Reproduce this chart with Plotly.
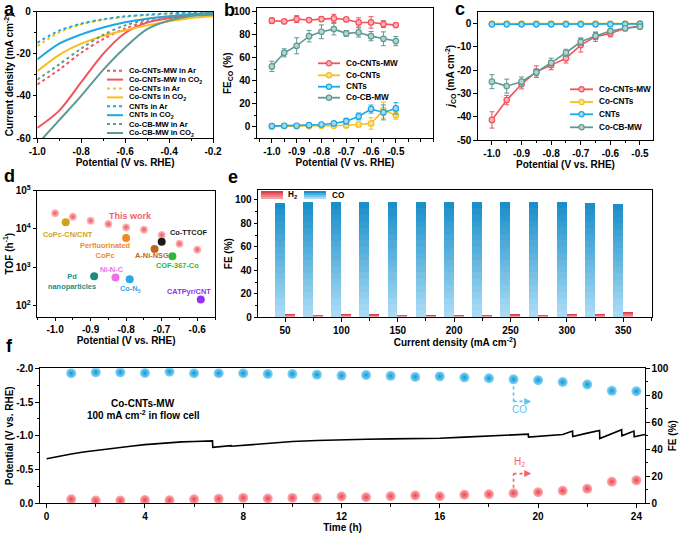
import plotly.graph_objects as go

W, H = 682, 539
FONT = "Liberation Sans, Arial, Helvetica, sans-serif"

RED, YEL, BLU, TEAL = '#F4535B', '#F9BE1A', '#1AA8E6', '#5E9A94'
RED_L, YEL_L, BLU_L, TEAL_L = '#FBB3B6', '#FDE08C', '#A3DBF5', '#B9D4D0'

# ---------------- a: LSV curves ----------------
lsv_potential = [-1.0, -0.9, -0.8, -0.7, -0.6, -0.5, -0.4, -0.3, -0.2]
lsv_cocntsmw_ar = [-34.6, -27.5, -19.5, -13.0, -8.0, -4.8, -3.0, -1.5, -0.6]
lsv_cocntsmw_co2 = [-55.2, -47.0, -33.5, -20.0, -10.1, -5.2, -3.0, -1.8, -1.1]
lsv_cocnts_ar = [-16.4, -9.8, -6.0, -3.8, -2.5, -1.7, -1.1, -0.5, -0.1]
lsv_cocnts_co2 = [-28.3, -20.5, -15.2, -11.5, -8.8, -6.5, -4.6, -3.0, -2.2]
lsv_cnts_ar = [-14.8, -9.0, -5.7, -3.6, -2.2, -1.4, -0.8, -0.4, -0.1]
lsv_cnts_co2 = [-22.7, -15.2, -10.8, -7.5, -5.0, -3.3, -2.2, -1.2, -0.6]
lsv_cocbmw_ar = [-32.3, -25.0, -17.5, -11.0, -6.5, -3.8, -2.2, -1.2, -0.6]
lsv_cocbmw_co2 = [-63.0, -51.5, -40.0, -27.6, -17.0, -8.3, -4.2, -2.0, -1.4]
lsv_labels = ['Co-CNTs-MW in Ar', 'Co-CNTs-MW in CO<sub>2</sub>', 'Co-CNTs in Ar', 'Co-CNTs in CO<sub>2</sub>',
              'CNTs in Ar', 'CNTs in CO<sub>2</sub>', 'Co-CB-MW in Ar', 'Co-CB-MW in CO<sub>2</sub>']

# ---------------- b, c: FE(CO) and j(CO) ----------------
fe_potential = [-1.0, -0.95, -0.9, -0.85, -0.8, -0.75, -0.7, -0.65, -0.6, -0.55, -0.5]
series_names = ['Co-CNTs-MW', 'Co-CNTs', 'CNTs', 'Co-CB-MW']
fe_cocntsmw = [92.2, 91.6, 93.6, 92.8, 93.6, 94.2, 93.3, 90.7, 90.7, 89.3, 88.4]
fe_cocntsmw_err = [2.5, 1.5, 3.0, 1.5, 2.0, 3.5, 1.5, 4.0, 5.0, 3.0, 1.5]
fe_cocnts = [0.3, 0.6, 0.6, 0.6, 0.9, 0.9, 1.2, 2.0, 2.9, 14.5, 10.1]
fe_cocnts_err = [0.3, 0.3, 0.3, 0.4, 0.5, 0.5, 1.0, 2.0, 5.0, 7.0, 3.5]
fe_cnts = [0.6, 0.9, 0.9, 1.4, 2.0, 2.9, 4.9, 9.0, 15.4, 12.5, 16.0]
fe_cnts_err = [0.4, 0.5, 0.6, 0.8, 1.0, 1.5, 2.5, 3.0, 3.5, 6.5, 5.0]
fe_cocbmw = [52.5, 64.3, 70.4, 78.8, 82.6, 84.9, 81.2, 82.0, 78.8, 76.5, 74.5]
fe_cocbmw_err = [4.5, 3.5, 7.0, 5.0, 6.0, 5.0, 2.5, 4.0, 4.0, 6.0, 4.0]

jco_cocntsmw = [-41.4, -32.9, -26.1, -20.7, -17.9, -15.0, -9.3, -5.7, -4.3, -2.1, -1.1]
jco_cocntsmw_err = [3.5, 2.0, 2.0, 2.5, 2.0, 2.0, 3.0, 2.0, 1.5, 1.0, 0.5]
jco_cocnts = [-0.05, -0.05, -0.05, -0.05, -0.05, -0.05, -0.05, -0.05, -0.1, -0.1, -0.1]
jco_cnts = [-0.4, -0.4, -0.4, -0.4, -0.4, -0.4, -0.4, -0.4, -0.4, -0.3, -0.2]
jco_cocbmw = [-25.0, -26.9, -25.0, -21.0, -16.9, -12.6, -7.9, -5.4, -3.3, -2.1, -1.4]
jco_cocbmw_err = [3.0, 3.0, 2.0, 1.5, 2.0, 1.5, 1.5, 1.5, 1.0, 0.5, 0.5]

# ---------------- d: TOF comparison ----------------
tw_potential = [-1.0, -0.95, -0.9, -0.85, -0.8, -0.75, -0.7, -0.65, -0.6]
tw_tof = [25700, 20800, 16400, 13400, 11000, 9600, 7000, 4100, 2900]
ref_names = ['CoPc-CN/CNT', 'Perfluorinated CoPc', 'Co-TTCOF', 'A-Ni-NSG', 'COF-367-Co',
             'Ni-N-C', 'Co-N5', 'Pd nanoparticles', 'CATPyr/CNT']
ref_potential = [-0.97, -0.80, -0.70, -0.72, -0.67, -0.83, -0.79, -0.89, -0.59]
ref_tof = [14900, 5800, 4650, 3000, 1950, 550, 490, 590, 148]
ref_colors = ['#D2A31A', '#F28A1E', '#1A1A1A', '#C0651E', '#2DB83D', '#F070E6', '#29A9E6', '#1B8C84', '#9430EE']

# ---------------- e: FE vs current density ----------------
current_density = [50, 75, 100, 125, 150, 175, 200, 225, 250, 275, 300, 325, 350]
fe_co_cd = [97.8, 98.0, 98.0, 98.3, 98.5, 98.7, 98.5, 98.5, 98.5, 98.5, 98.5, 97.8, 96.4]
fe_h2_cd = [2.8, 2.0, 2.8, 2.5, 2.0, 1.7, 2.3, 2.0, 2.5, 2.3, 2.8, 2.8, 4.5]

# ---------------- f: stability ----------------
stab_time = [0, 0.5, 1, 1.5, 2, 2.5, 3, 3.5, 4, 4.5, 5, 5.5, 6, 6.5, 6.75, 6.76, 7, 7.5, 7.51, 8,
             9, 10, 11, 12, 13, 14, 15, 15.5, 15.51, 16, 17, 18, 19, 19.6, 19.61, 20, 21, 21.4, 21.41,
             22, 22.5, 22.51, 23, 23.4, 23.41, 23.9, 23.91, 24.35]
stab_potential = [-0.66, -0.70, -0.73, -0.76, -0.785, -0.81, -0.83, -0.85, -0.87, -0.885, -0.90, -0.91,
                  -0.915, -0.92, -0.925, -0.83, -0.84, -0.855, -0.845, -0.86, -0.89, -0.915, -0.93, -0.945,
                  -0.95, -0.955, -0.96, -0.965, -0.955, -0.963, -0.98, -0.995, -1.01, -1.025, -0.98, -0.99,
                  -1.02, -1.07, -0.99, -1.04, -1.08, -0.96, -1.03, -1.09, -1.0, -1.07, -0.985, -1.02]
fe_time = [1, 2, 3, 4, 5, 6, 7, 8, 9, 10, 11, 12, 13, 14, 15, 16, 17, 18, 19, 20, 21, 22, 23, 24]
fe_co_time = [96.3, 97.0, 97.0, 96.5, 97.5, 96.3, 96.3, 96.3, 95.8, 95.8, 95.3, 94.6, 95.0, 94.4,
              93.6, 94.0, 93.2, 92.6, 91.8, 91.2, 89.8, 88.0, 83.3, 83.0]
fe_h2_time = [3.0, 2.0, 2.0, 2.5, 2.3, 3.0, 3.3, 4.0, 3.5, 4.0, 4.0, 5.0, 4.5, 5.2, 5.8, 5.2, 6.3,
              6.7, 7.5, 8.2, 9.3, 10.8, 16.0, 17.0]

# ---------------- tick labels ----------------
a_xvals, a_xtext = [-1.0, -0.8, -0.6, -0.4, -0.2], ['-1.0', '-0.8', '-0.6', '-0.4', '-0.2']
a_yvals, a_ytext = [0, -20, -40, -60], ['0', '-20', '-40', '-60']
bc_xvals, bc_xtext = [-1.0, -0.9, -0.8, -0.7, -0.6, -0.5], ['-1.0', '-0.9', '-0.8', '-0.7', '-0.6', '-0.5']
b_yvals, b_ytext = [0, 20, 40, 60, 80, 100], ['0', '20', '40', '60', '80', '100']
c_yvals, c_ytext = [0, -10, -20, -30, -40, -50], ['0', '-10', '-20', '-30', '-40', '-50']
d_xvals, d_xtext = [-1.0, -0.9, -0.8, -0.7, -0.6], ['-1.0', '-0.9', '-0.8', '-0.7', '-0.6']
d_yvals, d_ytext = [100, 1000, 10000, 100000], ['10<sup>2</sup>', '10<sup>3</sup>', '10<sup>4</sup>', '10<sup>5</sup>']
e_xvals, e_xtext = [50, 100, 150, 200, 250, 300, 350], ['50', '100', '150', '200', '250', '300', '350']
e_yvals, e_ytext = [0, 20, 40, 60, 80, 100], ['0', '20', '40', '60', '80', '100']
f_xvals, f_xtext = [0, 4, 8, 12, 16, 20, 24], ['0', '4', '8', '12', '16', '20', '24']
f_yvals, f_ytext = [-2.0, -1.5, -1.0, -0.5, 0.0], ['-2.0', '-1.5', '-1.0', '-0.5', '0.0']
f_y2vals, f_y2text = [0, 20, 40, 60, 80, 100], ['0', '20', '40', '60', '80', '100']


def px(x):
    return x / W


def py(y):
    return 1 - y / H


def hexrgb(c):
    c = c.lstrip('#')
    return tuple(int(c[i:i + 2], 16) for i in (0, 2, 4))


def lerp(c1, c2, t):
    a, b = hexrgb(c1), hexrgb(c2)
    return 'rgb(%d,%d,%d)' % tuple(round(a[i] + (b[i] - a[i]) * t) for i in range(3))


def axis(domain, anchor, rng, vals, text, title, minor=None, mirror=True, standoff=1, **kw):
    d = dict(domain=domain, anchor=anchor, range=rng, tickmode='array', tickvals=vals, ticktext=text,
             showline=True, linecolor='black', linewidth=1.2, mirror=mirror, ticks='outside', ticklen=3.5,
             tickwidth=1.2, tickcolor='black', showgrid=False, zeroline=False, automargin=False,
             tickfont=dict(family=FONT, size=10, color='black', weight='bold'),
             title=dict(text=title, standoff=standoff,
                        font=dict(family=FONT, size=10, color='black', weight='bold')))
    if minor is not None:
        d['minor'] = dict(tickmode='linear', tick0=minor[0], dtick=minor[1], ticks='outside', ticklen=2.2,
                          tickwidth=1, tickcolor='black', showgrid=False)
    d.update(kw)
    return d


fig = go.Figure()

# ---- a
lsv_sets = [lsv_cocntsmw_ar, lsv_cocntsmw_co2, lsv_cocnts_ar, lsv_cocnts_co2,
            lsv_cnts_ar, lsv_cnts_co2, lsv_cocbmw_ar, lsv_cocbmw_co2]
lsv_colors = [RED, RED, YEL, YEL, BLU, BLU, TEAL, TEAL]
lsv_dash = ['3px,3px', 'solid'] * 4
for ys, col, dsh in zip(lsv_sets, lsv_colors, lsv_dash):
    fig.add_trace(go.Scatter(x=lsv_potential, y=ys, mode='lines', xaxis='x', yaxis='y', showlegend=False,
                             line=dict(color=col, width=2, dash=dsh, shape='spline', smoothing=0.9)))

# ---- b & c
b_sets = [(fe_cocntsmw, fe_cocntsmw_err), (fe_cocnts, fe_cocnts_err), (fe_cnts, fe_cnts_err),
          (fe_cocbmw, fe_cocbmw_err)]
c_sets = [(jco_cocntsmw, jco_cocntsmw_err), (jco_cocnts, None), (jco_cnts, None),
          (jco_cocbmw, jco_cocbmw_err)]
s_cols = [RED, YEL, BLU, TEAL]
s_fill = [RED_L, YEL_L, BLU_L, TEAL_L]
for (ys, er), col, fl in zip(b_sets, s_cols, s_fill):
    fig.add_trace(go.Scatter(x=fe_potential, y=ys, mode='lines+markers', xaxis='x2', yaxis='y2',
                             showlegend=False, line=dict(color=col, width=1.6),
                             marker=dict(size=5.5, color=fl, line=dict(color=col, width=1.2)),
                             error_y=dict(type='data', array=er, color=col, thickness=1, width=2.5)))
for (ys, er), col, fl in zip(c_sets, s_cols, s_fill):
    ey = dict(type='data', array=er, color=col, thickness=1, width=2.5) if er else None
    fig.add_trace(go.Scatter(x=fe_potential, y=ys, mode='lines+markers', xaxis='x3', yaxis='y3',
                             showlegend=False, line=dict(color=col, width=1.6),
                             marker=dict(size=5.5, color=fl, line=dict(color=col, width=1.2)),
                             error_y=ey))

# ---- d
fig.add_trace(go.Scatter(x=tw_potential, y=tw_tof, mode='markers', xaxis='x4', yaxis='y4', showlegend=False,
                         marker=dict(size=8, color='#FFC4C6', line=dict(width=0),
                                     gradient=dict(type='radial', color='#F2535B'))))
fig.add_trace(go.Scatter(x=ref_potential, y=ref_tof, mode='markers', xaxis='x4', yaxis='y4', showlegend=False,
                         text=ref_names,
                         marker=dict(size=8, color=ref_colors, line=dict(width=0))))

# ---- e (gradient bars built from stacked overlays)
BW = 8.8
CO_TOP, CO_BOT = '#1B8FCB', '#A9DCF4'
H2_TOP, H2_BOT = '#D8404C', '#F4A0A6'
NSEG = 18
for k in range(NSEG):
    fig.add_trace(go.Bar(x=current_density, y=[v * (NSEG - k) / NSEG for v in fe_co_cd], offset=-BW, width=BW,
                         xaxis='x5', yaxis='y5', showlegend=False, hoverinfo='skip',
                         marker=dict(color=lerp(CO_TOP, CO_BOT, k / (NSEG - 1)), line=dict(width=0))))
for k in range(5):
    fig.add_trace(go.Bar(x=current_density, y=[v * (5 - k) / 5 for v in fe_h2_cd], offset=0, width=BW,
                         xaxis='x5', yaxis='y5', showlegend=False, hoverinfo='skip',
                         marker=dict(color=lerp(H2_TOP, H2_BOT, k / 4), line=dict(width=0))))

# ---- f
fig.add_trace(go.Scatter(x=stab_time, y=stab_potential, mode='lines', xaxis='x6', yaxis='y6', showlegend=False,
                         line=dict(color='black', width=1.6)))
fig.add_trace(go.Scatter(x=fe_time, y=fe_co_time, mode='markers', xaxis='x6', yaxis='y7', showlegend=False,
                         marker=dict(size=10, color='#8AD6F6', line=dict(width=0),
                                     gradient=dict(type='radial', color='#0D97D6'))))
fig.add_trace(go.Scatter(x=fe_time, y=fe_h2_time, mode='markers', xaxis='x6', yaxis='y7', showlegend=False,
                         marker=dict(size=10, color='#FFB0B4', line=dict(width=0),
                                     gradient=dict(type='radial', color='#E9434E'))))

shapes, annos = [], []


def txt(x, y, s, size=8, color='black', xanchor='left', weight='bold', xref='paper', yref='paper'):
    annos.append(dict(x=x, y=y, xref=xref, yref=yref, text=s, showarrow=False, xanchor=xanchor,
                      yanchor='middle', font=dict(family=FONT, size=size, color=color, weight=weight)))


# panel letters
for lab, x, y in [('a', 2, 9), ('b', 222, 9.5), ('c', 453, 9), ('d', 2, 176), ('e', 226, 177), ('f', 4, 346)]:
    txt(px(x), py(y), lab, size=18)

# legend a
rows_a = [70.7, 79.6, 88.5, 97.4, 106.3, 115.2, 124.1, 133.0]
for lab, col, dsh, yy in zip(lsv_labels, lsv_colors, lsv_dash, rows_a):
    shapes.append(dict(type='line', xref='paper', yref='paper', x0=px(107), x1=px(123), y0=py(yy), y1=py(yy),
                       line=dict(color=col, width=2, dash=dsh)))
    txt(px(126.5), py(yy), lab, size=7.6)

# legends b, c
for rows, x0, x1, tx in [([63.3, 75.3, 86.7, 97.7], 318, 340, 343.5), ([89.3, 102.0, 114.3, 127.3], 570, 593, 596.5)]:
    for lab, col, fl, yy in zip(series_names, s_cols, s_fill, rows):
        shapes.append(dict(type='line', xref='paper', yref='paper', x0=px(x0), x1=px(x1), y0=py(yy), y1=py(yy),
                           line=dict(color=col, width=1.8)))
        cx = (x0 + x1) / 2
        shapes.append(dict(type='circle', xref='paper', yref='paper', x0=px(cx - 2.6), x1=px(cx + 2.6),
                           y0=py(yy + 2.6), y1=py(yy - 2.6), fillcolor=fl, line=dict(color=col, width=1.2)))
        txt(px(tx), py(yy), lab, size=8.2)

# legend e
for (x0, x1, top, bot, lab, tx) in [(261, 283, H2_TOP, H2_BOT, 'H<sub>2</sub>', 286),
                                    (304, 326, CO_TOP, CO_BOT, 'CO', 330)]:
    for i in range(4):
        shapes.append(dict(type='rect', xref='paper', yref='paper', x0=px(x0), x1=px(x1),
                           y0=py(191 + 2 * i), y1=py(191 + 2 * (i + 1)), line=dict(width=0),
                           fillcolor=lerp(top, bot, i / 3)))
    txt(px(tx), py(195), lab, size=8.2)

# panel d labels
d_labels = [('This work', -0.789, 4.33, '#F2636B', 9),
            ('CoPc-CN/CNT', -0.9625, 3.845, '#D2A31A', 7.4),
            ('Perfluorinated<br>CoPc', -0.857, 3.44, '#F28A1E', 7.4),
            ('Co-TTCOF', -0.625, 3.90, '#1A1A1A', 7.4),
            ('A-Ni-NSG', -0.726, 3.30, '#C0651E', 7.4),
            ('COF-367-Co', -0.656, 3.04, '#2DB83D', 7.4),
            ('Ni-N-C', -0.839, 2.95, '#F070E6', 7.4),
            ('Pd<br>nanoparticles', -0.953, 2.63, '#1B8C84', 7.4),
            ('Co-N<sub>5</sub>', -0.789, 2.44, '#29A9E6', 7.4),
            ('CATPyr/CNT', -0.624, 2.37, '#9430EE', 7.4)]
for s, x, y, col, sz in d_labels:
    txt(x, y, s, size=sz, color=col, xanchor='center', xref='x4', yref='y4')

# panel f texts and arrows
txt(px(143), py(403), 'Co-CNTs-MW', size=10, xanchor='center')
txt(px(143), py(414.5), '100 mA cm<sup>-2</sup> in flow cell', size=10, xanchor='center')
CO_ARW, H2_ARW = '#5CC4EE', '#F4606A'
for col, ya, yb, lab, ly in [(CO_ARW, 86.5, 75.5, 'CO', 69.5), (H2_ARW, 11.5, 22.0, 'H<sub>2</sub>', 30.5)]:
    shapes.append(dict(type='line', xref='x6', yref='y7', x0=19.0, x1=19.0, y0=ya, y1=yb,
                       line=dict(color=col, width=1.6, dash='dot')))
    shapes.append(dict(type='line', xref='x6', yref='y7', x0=19.0, x1=19.55, y0=yb, y1=yb,
                       line=dict(color=col, width=1.6, dash='dot')))
    annos.append(dict(x=19.72, y=yb, ax=19.5, ay=yb, xref='x6', yref='y7', axref='x6', ayref='y7', text='',
                      showarrow=True, arrowhead=2, arrowsize=1, arrowwidth=1.4, arrowcolor=col))
    txt(19.25, ly, lab, size=10, color=col, xanchor='center', weight='normal', xref='x6', yref='y7')

layout = dict(
    template='none',
    width=W, height=H, margin=dict(l=0, r=0, t=0, b=0, autoexpand=False), paper_bgcolor='white',
    plot_bgcolor='white',
    barmode='overlay', bargap=0, showlegend=False, font=dict(family=FONT, color='black'),
    shapes=shapes, annotations=annos,
    xaxis=axis([px(37.3), px(213)], 'y', [-1.0, -0.2], a_xvals, a_xtext, 'Potential (V vs. RHE)',
               minor=(-1.0, 0.1)),
    yaxis=axis([py(138), py(11.7)], 'x', [-60, 0], a_yvals, a_ytext,
               'Current density (mA cm<sup>-2</sup>)', minor=(0, 10), standoff=0),
    xaxis2=axis([px(257), px(433)], 'y2', [-1.06, -0.35], bc_xvals, bc_xtext, 'Potential (V vs. RHE)',
                minor=(-1.0, 0.05)),
    yaxis2=axis([py(138.3), py(8.3)], 'x2', [-10, 103], b_yvals, b_ytext, 'FE<sub>CO</sub> (%)',
                minor=(0, 10), standoff=0),
    xaxis3=axis([px(478), px(653)], 'y3', [-1.047, -0.456], bc_xvals, bc_xtext, 'Potential (V vs. RHE)',
                minor=(-1.0, 0.05)),
    yaxis3=axis([py(140), py(11.7)], 'x3', [-50, 5], c_yvals, c_ytext,
                '<i>j</i><sub>CO</sub> (mA cm<sup>-2</sup>)', standoff=0),
    xaxis4=axis([px(37.3), px(215)], 'y4', [-1.05, -0.55], d_xvals, d_xtext, 'Potential (V vs. RHE)',
                minor=(-1.0, 0.05)),
    yaxis4=axis([py(316.7), py(190.5)], 'x4', [1.72, 5], d_yvals, d_ytext, 'TOF (h<sup>-1</sup>)', type='log',
                standoff=0),
    xaxis5=axis([px(258.3), px(651.7)], 'y5', [26.3, 375.2], e_xvals, e_xtext,
                'Current density (mA cm<sup>-2</sup>)', minor=(25, 50)),
    yaxis5=axis([py(317.3), py(190)], 'x5', [0, 108.5], e_yvals, e_ytext, 'FE (%)', minor=(0, 10), standoff=0),
    xaxis6=axis([px(40), px(645)], 'y6', [-0.27, 24.35], f_xvals, f_xtext, 'Time (h)', minor=(0, 2)),
    yaxis6=axis([py(503.3), py(368.3)], 'x6', [0, -2.0], f_yvals, f_ytext, 'Potential (V vs. RHE)',
                minor=(0, 0.25), mirror=False, standoff=0),
    yaxis7=axis([py(503.3), py(368.3)], 'x6', [0, 100], f_y2vals, f_y2text, 'FE (%)', minor=(0, 10),
                mirror=False, overlaying='y6', side='right', standoff=1),
)
fig.update_layout(**layout)
fig.write_html("out.html", config={'displayModeBar': False},
               post_script="document.body.style.margin='0px';document.body.style.overflow='hidden';")
